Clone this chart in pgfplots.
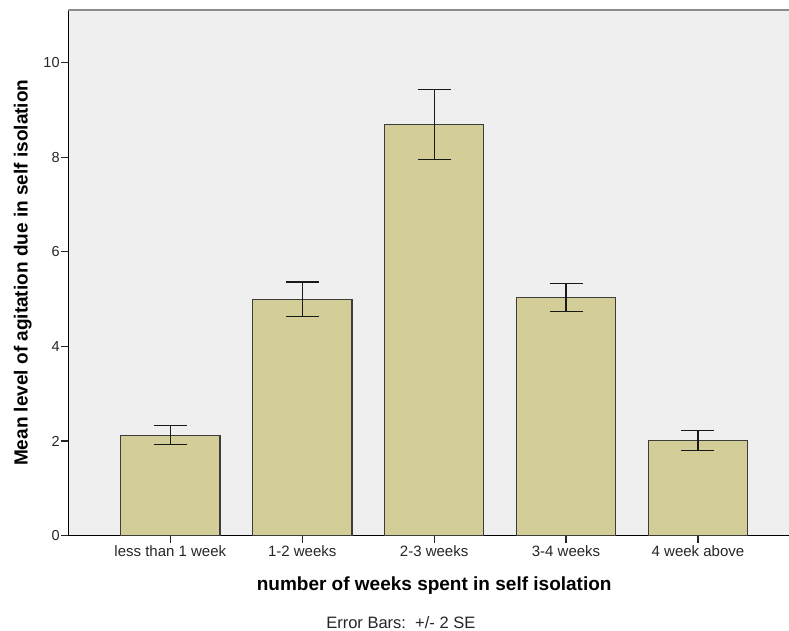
\documentclass[border=0pt]{standalone}
\usepackage{pgfplots}
\pgfplotsset{compat=1.18}
\usepackage{fontspec}
\setmainfont{Liberation Sans}
\definecolor{bgc}{RGB}{239,239,239}
\definecolor{barc}{RGB}{211,206,151}
\definecolor{edgec}{RGB}{60,60,60}
\definecolor{topc}{RGB}{140,140,140}
\begin{document}
\begin{tikzpicture}
\begin{axis}[
  at={(68.3pt,95.5pt)}, anchor=south west,
  scale only axis,
  width=731.7pt, height=525.5pt,
  xmin=-0.7733, xmax=4.7733,
  ymin=0, ymax=11.115,
  axis x line*=bottom, axis y line*=left,
  axis line style={black, line width=1.5pt},
  axis background/.style={fill=bgc},
  tick align=outside,
  major tick length=7pt,
  tick style={black!85, line width=1.3pt},
  xtick={0,1,2,3,4},
  xticklabels={less than 1 week, 1-2 weeks, 2-3 weeks, 3-4 weeks, 4 week above},
  ytick={0,2,4,6,8,10},
  /pgf/number format/assume math mode=true,
  xticklabel style={font=\fontsize{15}{18}\selectfont, text=black!85},
  yticklabel style={font=\fontsize{14.5}{17}\selectfont, text=black!85, inner sep=1.5pt},
  xlabel={number of weeks spent in self isolation},
  ylabel={Mean level of agitation due in self isolation},
  xlabel style={font=\fontsize{19}{22}\selectfont\bfseries, at={(axis description cs:0.5,-0.1047)}, anchor=base},
  ylabel style={font=\fontsize{19}{22}\selectfont\bfseries, at={(axis description cs:-0.0555,0.5)}, anchor=base, rotate=0},
  clip=false,
]
\addplot[ybar, bar width=0.754, fill=barc, draw=edgec, line width=1.2pt,
  error bars/.cd, y dir=both, y explicit,
  error bar style={black!90, line width=1.2pt},
  error mark options={black!90, line width=1.2pt, mark size=16.5pt, rotate=90}]
  table[x=x, y=y, y error=e] {
x y e
0 2.12 0.20
1 5.00 0.36
2 8.70 0.74
3 5.03 0.30
4 2.01 0.21
};
\draw[topc, line width=2pt] (rel axis cs:0,1) -- (rel axis cs:1,1);
\node[font=\fontsize{16.5}{19}\selectfont, anchor=base, text=black!85] at (axis description cs:0.4544,-0.177) {Error Bars:\ \ +/- 2 SE};
\end{axis}
\pgfresetboundingbox
\path[use as bounding box] (0,0) rectangle (789pt,631pt);
\end{tikzpicture}
\end{document}
